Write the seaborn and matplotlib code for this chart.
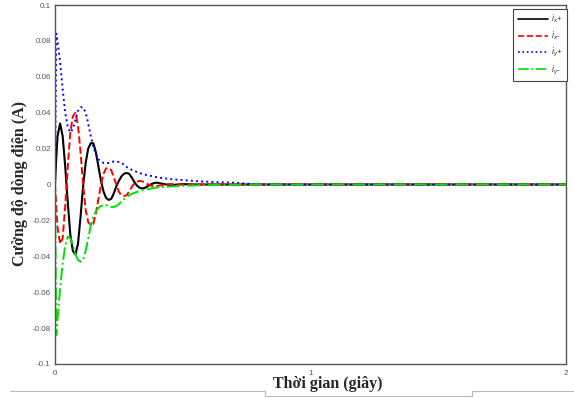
import numpy as np
import pandas as pd
import seaborn as sns
import matplotlib
matplotlib.use("Agg")
import matplotlib.pyplot as plt
from matplotlib.lines import Line2D

# ---- data ----
t = [0, 0.005, 0.01, 0.02, 0.03, 0.04, 0.05, 0.06, 0.07, 0.08, 0.09,
     0.10, 0.11, 0.12, 0.13, 0.14, 0.15, 0.16, 0.17, 0.18, 0.19,
     0.20, 0.21, 0.22, 0.23, 0.24, 0.25, 0.26, 0.27, 0.28, 0.29,
     0.30, 0.31, 0.32, 0.33, 0.34, 0.35, 0.36, 0.37, 0.38, 0.39,
     0.40, 0.45, 0.50, 0.55, 0.60, 0.70, 0.80, 0.90, 1.00, 1.50, 2.00]

ix_plus = [0, 0.015, 0.027, 0.034, 0.027, 0.010, -0.010, -0.028, -0.037, -0.039, -0.033,
           -0.018, -0.001, 0.012, 0.020, 0.023, 0.023, 0.018, 0.010, 0.002, -0.004,
           -0.0075, -0.0086, -0.008, -0.005, -0.001, 0.002, 0.0045, 0.006, 0.0064, 0.006,
           0.004, 0.0015, -0.0005, -0.0017, -0.0022, -0.002, -0.0012, -0.0003, 0.0004, 0.0009,
           0.001, -0.0004, 0.0002, 0, 0, 0, 0, 0, 0, 0, 0]

ix_minus = [0, -0.012, -0.024, -0.033, -0.030, -0.012, 0.010, 0.029, 0.038, 0.040, 0.033,
            0.018, 0.0, -0.014, -0.021, -0.0226, -0.022, -0.016, -0.008, 0.0, 0.006,
            0.009, 0.0092, 0.008, 0.004, 0.0, -0.004, -0.006, -0.0064, -0.006, -0.004,
            -0.0015, 0.0005, 0.0015, 0.002, 0.0018, 0.0012, 0.0004, -0.0003, -0.0008, -0.001,
            -0.0008, 0.0003, 0, 0, 0, 0, 0, 0, 0, 0, 0]

iy_plus = [0, 0.084, 0.080, 0.068, 0.053, 0.040, 0.032, 0.029, 0.031, 0.036, 0.041,
           0.043, 0.043, 0.040, 0.034, 0.027, 0.021, 0.017, 0.014, 0.013, 0.012,
           0.012, 0.012, 0.0125, 0.0128, 0.0128, 0.0125, 0.012, 0.011, 0.0098, 0.0088,
           0.0082, 0.0077, 0.007, 0.0065, 0.006, 0.0056, 0.0052, 0.005, 0.0046, 0.0043,
           0.004, 0.003, 0.0025, 0.0019, 0.0015, 0.001, 0.0, 0, 0, 0, 0]

iy_minus = [0, -0.084, -0.075, -0.058, -0.044, -0.034, -0.029, -0.030, -0.034, -0.039, -0.042,
            -0.043, -0.042, -0.037, -0.030, -0.023, -0.018, -0.015, -0.013, -0.012, -0.0115,
            -0.0115, -0.012, -0.0125, -0.0125, -0.012, -0.011, -0.0095, -0.0082, -0.007, -0.006,
            -0.0053, -0.0047, -0.0042, -0.0037, -0.0033, -0.003, -0.0027, -0.0024, -0.0021, -0.0019,
            -0.0017, -0.0011, -0.0008, -0.0005, -0.0003, -0.0001, 0, 0, 0, 0, 0]

labels = [r"$i_x$+", r"$i_x$-", r"$i_y$+", r"$i_y$-"]
series = [ix_plus, ix_minus, iy_plus, iy_minus]
colors = ["black", "red", "blue", "#00e000"]
styles = ["-", "--", ":", "-."]

yticks = [-0.1, -0.08, -0.06, -0.04, -0.02, 0, 0.02, 0.04, 0.06, 0.08, 0.1]
ytick_labels = ["-0.1", "-0.08", "-0.06", "-0.04", "-0.02", "0", "0.02", "0.04", "0.06", "0.08", "0.1"]
xticks = [0, 1, 2]
xtick_labels = ["0", "1", "2"]

# ---- plot ----
sns.set_style("white")
plt.rcParams["font.family"] = ["Liberation Sans", "DejaVu Sans"]

fig = plt.figure(figsize=(5.74, 3.98), dpi=100)
ax = fig.add_axes([55 / 574, 1 - 364 / 398, (566 - 55) / 574, (364 - 5) / 398])

for lab, s, c, ls in zip(labels, series, colors, styles):
    df_s = pd.DataFrame({"t": t, "v": s})
    sns.lineplot(data=df_s, x="t", y="v", ax=ax, color=c, linestyle=ls,
                 linewidth=1.5 if ls == "-" else 1.4, label=lab, legend=False)

ax.set_xlim(0, 2)
ax.set_ylim(-0.1, 0.1)
ax.set_xticks(xticks)
ax.set_xticklabels(xtick_labels)
ax.set_yticks(yticks)
ax.set_yticklabels(ytick_labels)
ax.tick_params(axis="both", direction="in", length=3, width=0.7, labelsize=5.8,
               labelcolor="#555555", color="#444444", pad=3)
ax.tick_params(axis="x", pad=4)
for sp in ax.spines.values():
    sp.set_visible(True)
    sp.set_color("#555555")
    sp.set_linewidth(1.0)

ax.set_xlabel("")
ax.set_ylabel("")
fig.text(20 / 574, 1 - 184 / 398, "Cường độ dòng điện (A)", rotation=90,
         ha="center", va="center", family=["Liberation Serif", "DejaVu Serif"],
         fontweight="bold", fontsize=11.5)
fig.text(328 / 574, 1 - 384 / 398, "Thời gian (giây)", ha="center", va="center",
         family=["Liberation Serif", "DejaVu Serif"], fontweight="bold", fontsize=11.5)

handles = [Line2D([], [], color=c, linestyle=ls, linewidth=1.2) for c, ls in zip(colors, styles)]
leg = ax.legend(handles, labels, loc="upper right", bbox_to_anchor=(1.002, 0.99),
                fontsize=5.5, handlelength=4.0, labelspacing=0.55, borderpad=0.55,
                handletextpad=0.4, borderaxespad=0.0, fancybox=False, framealpha=1)
leg.get_frame().set_edgecolor("#444444")
leg.get_frame().set_linewidth(0.8)

# page decoration lines under the chart
gray = "#bbbbbb"
fig.add_artist(Line2D([10 / 574, 265 / 574], [1 - 391 / 398] * 2, color=gray, lw=0.8))
fig.add_artist(Line2D([265 / 574, 265 / 574], [1 - 391 / 398, 1 - 396 / 398], color=gray, lw=0.8))
fig.add_artist(Line2D([265 / 574, 472 / 574], [1 - 396 / 398] * 2, color=gray, lw=0.8))
fig.add_artist(Line2D([472 / 574, 472 / 574], [1 - 396 / 398, 1 - 391 / 398], color=gray, lw=0.8))
fig.add_artist(Line2D([472 / 574, 574 / 574], [1 - 391 / 398] * 2, color=gray, lw=0.8))

fig.savefig("out.png", dpi=100)
